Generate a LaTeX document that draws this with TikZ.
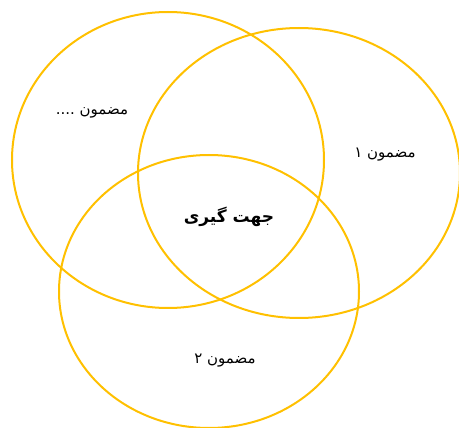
\documentclass[tikz,border=0pt]{standalone}
\usepackage{fontspec}
\TeXXeTstate=1
\newfontfamily\arabicfont[Script=Arabic]{DejaVu Sans}
\definecolor{gold}{HTML}{FFC000}
\begin{document}
\begin{tikzpicture}[x=1pt,y=-1pt,
  ring/.style={draw=gold,line width=2pt},
  lbl/.style={font=\arabicfont\fontsize{15}{17}\selectfont},
  mainlbl/.style={font=\arabicfont\bfseries\fontsize{17}{19}\selectfont}]
\useasboundingbox (0,0) rectangle (459,428);
\draw[ring] (168,160) ellipse [x radius=156,y radius=148];
\draw[ring] (299,173) ellipse [x radius=161,y radius=145];
\draw[ring] (209,291.5) ellipse [x radius=150,y radius=136.5];
\node[lbl] (t0) at (92,113) {\beginR مضمون ....\endR};
\node[lbl] (t1) at (385,155) {\beginR مضمون ۱\endR};
\node[mainlbl] (c) at (229,217) {\beginR جهت گیری\endR};
\node[lbl] (t2) at (225,361) {\beginR مضمون ۲\endR};
\end{tikzpicture}
\end{document}
